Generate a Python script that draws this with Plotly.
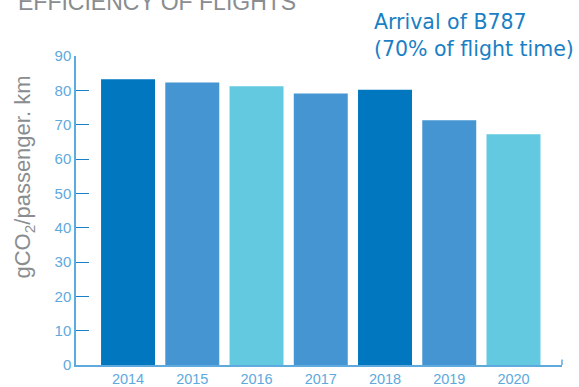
import plotly.graph_objects as go

years = ["2014", "2015", "2016", "2017", "2018", "2019", "2020"]
values = [83.2, 82.3, 81.2, 79.1, 80.2, 71.3, 67.2]
bar_colors = ["#0077be", "#4495d1", "#62c9e0", "#4495d1", "#0077be", "#4495d1", "#62c9e0"]
y_ticks = [0, 10, 20, 30, 40, 50, 60, 70, 80, 90]

FONT = "Liberation Sans"
LABEL_BLUE = "#5ea9de"
LINE_BLUE = "#5ea9de"
TICK_BLUE = "#1a7fc4"
GRAY = "#8a8d90"

fig = go.Figure()
fig.add_trace(go.Bar(x=years, y=values, marker=dict(color=bar_colors, line=dict(width=0)),
                     hoverinfo="skip"))

fig.update_layout(
    width=579, height=387,
    margin=dict(l=76, r=17, t=56, b=22),
    paper_bgcolor="white", plot_bgcolor="white",
    bargap=0.16,
    showlegend=False,
    font=dict(family=FONT),
)
fig.update_xaxes(
    type="category", range=[-0.81, 6.755], automargin=False,
    showline=True, linecolor=LINE_BLUE, linewidth=1.5,
    ticks="", showgrid=False, zeroline=False,
    tickfont=dict(size=14.5, color=LABEL_BLUE, family=FONT),
)
fig.update_yaxes(
    range=[0, 90], tickvals=y_ticks, automargin=False,
    showline=True, linecolor=LINE_BLUE, linewidth=1.5,
    ticks="inside", ticklen=13, tickwidth=1.3, tickcolor=TICK_BLUE,
    showgrid=False, zeroline=False,
    tickfont=dict(size=15, color=LABEL_BLUE, family=FONT),
)

# y-axis title (placed higher than centre, as in the reference)
fig.add_annotation(text="gCO<sub>2</sub>/passenger. km", xref="paper", yref="paper",
                   x=-0.107, y=0.61, xanchor="center", yanchor="middle", textangle=-90,
                   showarrow=False, font=dict(size=22, color=GRAY, family=FONT))

# chart title (cut off at top)
fig.add_annotation(text="EFFICIENCY OF FLIGHTS", xref="paper", yref="paper",
                   x=-0.123, y=1.127, xanchor="left", yanchor="bottom", showarrow=False,
                   font=dict(size=23, color=GRAY, family=FONT))

# callout text
fig.add_annotation(text="Arrival of B787<br>(70% of flight time)", xref="paper", yref="paper",
                   x=0.61, y=1.156, xanchor="left", yanchor="top", align="left", showarrow=False,
                   font=dict(size=20.5, color=TICK_BLUE, family="DejaVu Sans"))
# callout pointer
fig.add_annotation(text=" ", x=years[5], y=values[5], xref="x", yref="y",
                   showarrow=True, arrowhead=0, arrowwidth=1.3, arrowcolor=TICK_BLUE,
                   ax=31, ay=-54, standoff=0)

# small end tick on x axis line
fig.add_shape(type="line", xref="paper", yref="paper", x0=1, x1=1, y0=0, y1=0.018,
              line=dict(color=LINE_BLUE, width=1.5))

fig.write_html("out.html")
